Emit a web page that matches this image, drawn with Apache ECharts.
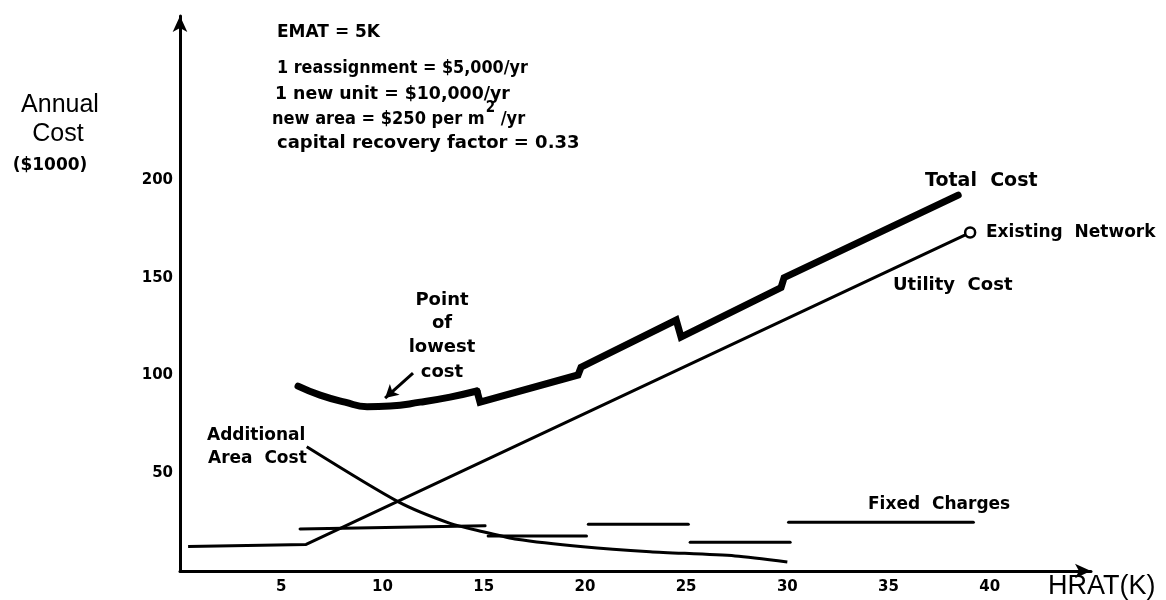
<!DOCTYPE html>
<html><head><meta charset="utf-8">
<script src="https://cdn.jsdelivr.net/npm/echarts@6/dist/echarts.min.js"></script>
<style>html,body{margin:0;padding:0;background:#fff}#c{width:1166px;height:600px}</style>
</head><body><div id="c"></div>
<script>
// ---- data (HRAT in K, annual cost in $1000) ----
const xTicks = [5, 10, 15, 20, 25, 30, 35, 40];
const yTicks = [50, 100, 150, 200];
const totalCostCurve = [[5.83,94.6],[6.92,90.0],[8.15,86.4],[9.24,84.1],[10.38,84.4],[11.86,86.4],[13.34,89.0],[14.67,92.1]];
const totalCostSteps = [[14.67,92.1],[14.82,86.4],[19.66,100.3],[19.81,104.3],[24.51,128.4],[24.75,119.7],[29.69,145.0],[29.84,150.1],[38.44,192.3]];
const utilityCost = [[0.40,12.5],[6.23,13.6],[39.03,173.2]];
const areaCost = [[6.26,63.6],[10.79,35.4],[13.34,24.4],[14.97,20.1],[16.64,16.2],[19.91,12.4],[23.22,9.9],[27.42,7.7],[30.0,4.6]];
const fixedCharges = [
  [[5.93,21.5],[15.07,23.2]],
  [[15.22,17.9],[20.08,17.9]],
  [[20.17,23.9],[25.11,23.9]],
  [[25.20,14.7],[30.14,14.7]],
  [[30.06,24.9],[39.19,24.9]]
];
const lowestCostArrow = [[11.51,101.3],[10.13,88.5]];

const BOLD = '"DejaVu Sans", sans-serif';
const chart = echarts.init(document.getElementById('c'), null, {renderer: 'canvas'});

function txt(text, x, y, size, opts) {
  opts = opts || {};
  return {
    type: 'text', x: x, y: y, silent: true, scaleX: opts.scaleX || 1,
    style: {
      text: text,
      font: (opts.weight || 'bold') + ' ' + size + 'px ' + (opts.family || BOLD),
      fill: '#000',
      align: opts.align || 'left',
      verticalAlign: 'middle'
    }
  };
}

// superscript position for "m²"
const AREA_SIZE = 18, AREA_SX = 0.9;
const cv = document.createElement('canvas').getContext('2d');
cv.font = 'bold ' + AREA_SIZE + 'px "DejaVu Sans"';
const areaLine = 'new area = $250 per m';
const areaW = cv.measureText(areaLine).width * AREA_SX;
cv.font = 'bold 15px "DejaVu Sans"';
const supW = cv.measureText('2').width * AREA_SX;

const series = [];
series.push({
  type: 'line', data: totalCostCurve, smooth: 0.5, symbol: 'none',
  lineStyle: {color: '#000', width: 7, cap: 'round', join: 'round'},
  markLine: {
    silent: true, symbol: ['none', 'arrow'], symbolSize: [11, 13],
    label: {show: false},
    lineStyle: {color: '#000', width: 3, type: 'solid'},
    data: [[{coord: lowestCostArrow[0]}, {coord: lowestCostArrow[1]}]]
  }
});
series.push({
  type: 'line', data: totalCostSteps, symbol: 'none',
  lineStyle: {color: '#000', width: 7, cap: 'round', join: 'miter'}
});
series.push({
  type: 'line', symbol: 'none', showSymbol: true,
  data: utilityCost.map((p, i) => i === utilityCost.length - 1 ?
    {value: p, symbol: 'circle', symbolSize: 10, itemStyle: {color: '#fff', borderColor: '#000', borderWidth: 2.5}} : {value: p}),
  lineStyle: {color: '#000', width: 3}
});
series.push({
  type: 'line', data: areaCost, smooth: 0.25, symbol: 'none',
  lineStyle: {color: '#000', width: 3}
});
fixedCharges.forEach(seg => series.push({
  type: 'line', data: seg, symbol: 'none',
  lineStyle: {color: '#000', width: 3, cap: 'round'}
}));

chart.setOption({
  animation: false,
  backgroundColor: '#fff',
  grid: {left: 180, right: 75, top: 16, bottom: 29, containLabel: false},
  xAxis: {
    type: 'value', min: 0, max: 45, interval: 5,
    axisLine: {show: true, symbol: ['none', 'arrow'], symbolSize: [11, 16], lineStyle: {color: '#000', width: 3}},
    axisTick: {show: false}, splitLine: {show: false},
    axisLabel: {
      formatter: v => xTicks.includes(v) ? String(v) : '',
      color: '#000', fontFamily: 'DejaVu Sans', fontWeight: 'bold', fontSize: 15, margin: 9
    }
  },
  yAxis: {
    type: 'value', min: 0, max: 284, interval: 50,
    axisLine: {show: true, symbol: ['none', 'arrow'], symbolSize: [11, 16], lineStyle: {color: '#000', width: 3}},
    axisTick: {show: false}, splitLine: {show: false},
    axisLabel: {
      formatter: v => yTicks.includes(v) ? String(v) : '',
      showMaxLabel: false,
      color: '#000', fontFamily: 'DejaVu Sans', fontWeight: 'bold', fontSize: 15, margin: 7
    }
  },
  series: series,
  graphic: [
    txt('Annual', 60, 105, 25, {weight: 'normal', family: '"Liberation Sans", Arial', align: 'center'}),
    txt('Cost', 58, 134, 25, {weight: 'normal', family: '"Liberation Sans", Arial', align: 'center'}),
    txt('($1000)', 50, 166, 17, {align: 'center'}),
    txt('EMAT = 5K', 277, 33, 17),
    txt('1 reassignment = $5,000/yr', 277, 68, 18, {scaleX: 0.89}),
    txt('1 new unit = $10,000/yr', 275, 94, 18, {scaleX: 0.963}),
    txt(areaLine, 272, 119, AREA_SIZE, {scaleX: AREA_SX}),
    txt('2', 272 + areaW + 1, 108, 15, {scaleX: AREA_SX}),
    txt(' /yr', 272 + areaW + supW + 1, 119, AREA_SIZE, {scaleX: AREA_SX}),
    txt('capital recovery factor = 0.33', 277, 143, 18),
    txt('Total  Cost', 925, 181, 19),
    txt('Existing  Network', 986, 233, 17),
    txt('Utility  Cost', 893, 285, 18),
    txt('Point', 442, 300, 18, {align: 'center'}),
    txt('of', 442, 323, 18, {align: 'center'}),
    txt('lowest', 442, 347, 18, {align: 'center'}),
    txt('cost', 442, 372, 18, {align: 'center'}),
    txt('Additional', 207, 436, 17),
    txt('Area  Cost', 208, 459, 17),
    txt('Fixed  Charges', 868, 505, 17),
    txt('HRAT(K)', 1048, 587, 27, {weight: 'normal', family: '"Liberation Sans", Arial'})
  ]
});
</script>
</body></html>
